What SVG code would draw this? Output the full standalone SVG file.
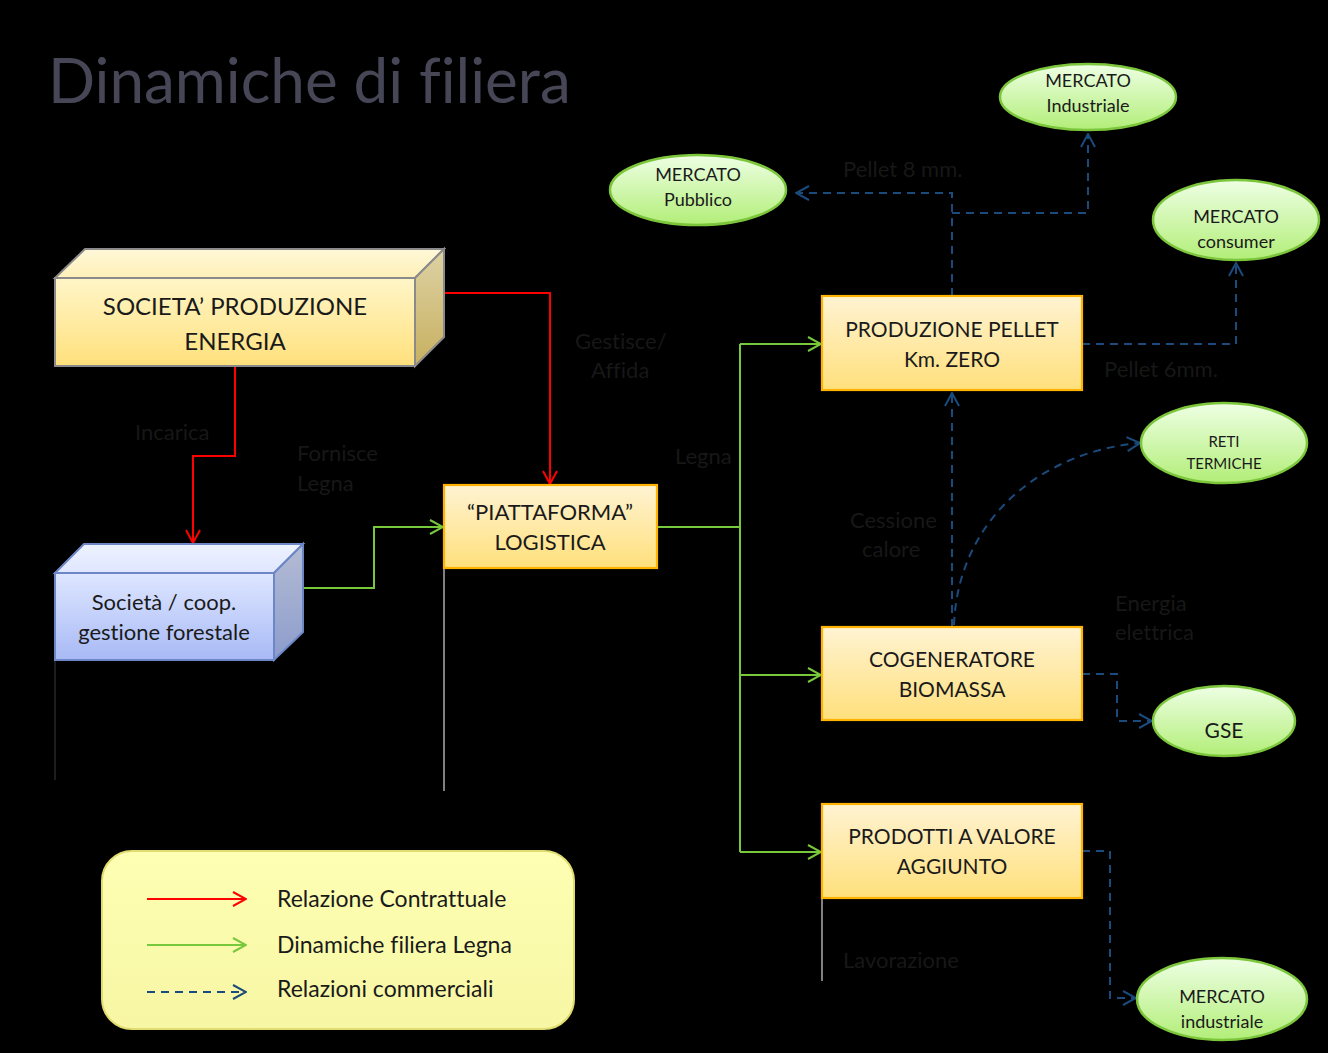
<svg xmlns="http://www.w3.org/2000/svg" width="1328" height="1053" viewBox="0 0 1328 1053">
<style>
  text{font-variant-ligatures:none}
  .t{font-family:Lato,"Open Sans","Liberation Sans",sans-serif;fill:#1a1a1a;text-anchor:middle}
  .lbl{font-family:Lato,"Open Sans","Liberation Sans",sans-serif;fill:#171717;font-size:22px}
  .lg{font-family:Lato,"Open Sans","Liberation Sans",sans-serif;fill:#1a1a1a;font-size:23px}
  .box{fill:url(#gy);stroke:#ffb300;stroke-width:2.2}
  .ell{fill:url(#gg);stroke:#7cc63c;stroke-width:2.5}
  .red{fill:none;stroke:#ff0000;stroke-width:2}
  .grn{fill:none;stroke:#78c83c;stroke-width:2}
  .blu{fill:none;stroke:#1b4a7c;stroke-width:2;stroke-dasharray:8,6}
  .gl{stroke:#808080;stroke-width:2}
</style>
<defs>
  <linearGradient id="gy" x1="0" y1="0" x2="0" y2="1">
    <stop offset="0" stop-color="#fff3d2"/><stop offset="1" stop-color="#ffe07c"/>
  </linearGradient>
  <linearGradient id="gy3" x1="0" y1="0" x2="0" y2="1">
    <stop offset="0" stop-color="#fff6c8"/><stop offset="1" stop-color="#ffe07c"/>
  </linearGradient>
  <linearGradient id="gyt" x1="0" y1="0" x2="0" y2="1">
    <stop offset="0" stop-color="#fff8d8"/><stop offset="1" stop-color="#fff0b8"/>
  </linearGradient>
  <linearGradient id="gys" x1="0" y1="0" x2="0" y2="1">
    <stop offset="0" stop-color="#ddd2a4"/><stop offset="1" stop-color="#c8b060"/>
  </linearGradient>
  <linearGradient id="gb" x1="0" y1="0" x2="0" y2="1">
    <stop offset="0" stop-color="#dee6ff"/><stop offset="1" stop-color="#a8baf6"/>
  </linearGradient>
  <linearGradient id="gbt" x1="0" y1="0" x2="0" y2="1">
    <stop offset="0" stop-color="#eef2ff"/><stop offset="1" stop-color="#dfe6ff"/>
  </linearGradient>
  <linearGradient id="gbs" x1="0" y1="0" x2="0" y2="1">
    <stop offset="0" stop-color="#b4bcd4"/><stop offset="1" stop-color="#8c9ccc"/>
  </linearGradient>
  <linearGradient id="gg" x1="0" y1="0" x2="0" y2="1">
    <stop offset="0" stop-color="#eeffe4"/><stop offset="1" stop-color="#b2ee78"/>
  </linearGradient>
  <linearGradient id="gl" x1="0" y1="0" x2="0" y2="1">
    <stop offset="0" stop-color="#ffffb4"/><stop offset="1" stop-color="#f6f6a4"/>
  </linearGradient>
  <marker id="ar" viewBox="0 0 16 16" markerUnits="userSpaceOnUse" markerWidth="16" markerHeight="16" refX="15" refY="8" orient="auto">
    <path d="M2,1 L15,8 L2,15" fill="none" stroke="#ff0000" stroke-width="2"/>
  </marker>
  <marker id="ag" viewBox="0 0 16 16" markerUnits="userSpaceOnUse" markerWidth="16" markerHeight="16" refX="15" refY="8" orient="auto">
    <path d="M2,1 L15,8 L2,15" fill="none" stroke="#78c83c" stroke-width="2"/>
  </marker>
  <marker id="ab" viewBox="0 0 16 16" markerUnits="userSpaceOnUse" markerWidth="16" markerHeight="16" refX="15" refY="8" orient="auto">
    <path d="M2,1 L15,8 L2,15" fill="none" stroke="#1b4a7c" stroke-width="2"/>
  </marker>
</defs>
<rect width="1328" height="1053" fill="#000"/>

<text x="48" y="103" font-family="Lato,'Open Sans','Liberation Sans',sans-serif" font-size="62" fill="#474656">Dinamiche di filiera</text>

<g id="edges-misc">
  <line x1="55" y1="660" x2="55" y2="780" stroke="#1e1e1e" stroke-width="2"/>
  <line class="gl" x1="444" y1="568" x2="444" y2="791"/>
  <line class="gl" x1="822" y1="898" x2="822" y2="981"/>
</g>

<g id="connectors">
  <path class="red" d="M444,293 H550 V484" marker-end="url(#ar)"/>
  <path class="red" d="M235,366 V456 H193 V543" marker-end="url(#ar)"/>
  <path class="grn" d="M303,588 H374 V527 H443" marker-end="url(#ag)"/>
  <path class="grn" d="M657,527 H740"/>
  <path class="grn" d="M740,344 V852"/>
  <path class="grn" d="M740,344 H821" marker-end="url(#ag)"/>
  <path class="grn" d="M740,675 H821" marker-end="url(#ag)"/>
  <path class="grn" d="M740,852 H821" marker-end="url(#ag)"/>
  <path class="blu" d="M952,296 V193 H796" marker-end="url(#ab)"/>
  <path class="blu" d="M952,213 H1088 V134" marker-end="url(#ab)"/>
  <path class="blu" d="M1082,344 H1236 V263" marker-end="url(#ab)"/>
  <path class="blu" d="M952,627 V393" marker-end="url(#ab)"/>
  <path class="blu" d="M954,625 C958,520 1040,452 1140,443" marker-end="url(#ab)"/>
  <path class="blu" d="M1082,674 H1117 V721 H1152" marker-end="url(#ab)"/>
  <path class="blu" d="M1082,851 H1110 V998 H1136" marker-end="url(#ab)"/>
</g>

<g id="labels" class="lbl">
  <text x="575" y="349">Gestisce/</text>
  <text x="591" y="378">Affida</text>
  <text x="135" y="440">Incarica</text>
  <text x="297" y="461">Fornisce</text>
  <text x="297" y="491">Legna</text>
  <text x="675" y="464">Legna</text>
  <text x="843" y="177">Pellet 8 mm.</text>
  <text x="1104" y="377">Pellet 6mm.</text>
  <text x="850" y="528">Cessione</text>
  <text x="862" y="557">calore</text>
  <text x="1115" y="611">Energia</text>
  <text x="1115" y="640">elettrica</text>
  <text x="843" y="968">Lavorazione</text>
</g>

<g id="n-societa-energia">
  <polygon points="55,278 85,249 444,249 415,278" fill="url(#gyt)" stroke="#8a8a8a" stroke-width="2"/>
  <polygon points="415,278 444,249 444,337 415,366" fill="url(#gys)" stroke="#8a8a8a" stroke-width="2"/>
  <rect x="55" y="278" width="360" height="88" fill="url(#gy3)" stroke="#8a8a8a" stroke-width="2"/>
  <text class="t" x="235" y="315" font-size="24">SOCIETA’ PRODUZIONE</text>
  <text class="t" x="235" y="350" font-size="24">ENERGIA</text>
</g>

<g id="n-coop">
  <polygon points="55,573 84,544 303,544 274,573" fill="url(#gbt)" stroke="#6c86c6" stroke-width="2"/>
  <polygon points="274,573 303,544 303,632 274,660" fill="url(#gbs)" stroke="#6c86c6" stroke-width="2"/>
  <rect x="55" y="573" width="219" height="87" fill="url(#gb)" stroke="#6c86c6" stroke-width="2"/>
  <text class="t" x="164" y="610" font-size="22">Società / coop.</text>
  <text class="t" x="164" y="640" font-size="22">gestione forestale</text>
</g>

<g id="n-piattaforma">
  <rect class="box" x="444" y="485" width="213" height="83"/>
  <text class="t" x="550" y="520" font-size="22">“PIATTAFORMA”</text>
  <text class="t" x="550" y="550" font-size="22">LOGISTICA</text>
</g>

<g id="n-pellet">
  <rect class="box" x="822" y="296" width="260" height="94"/>
  <text class="t" x="952" y="337" font-size="21">PRODUZIONE PELLET</text>
  <text class="t" x="952" y="367" font-size="21">Km. ZERO</text>
</g>

<g id="n-cogeneratore">
  <rect class="box" x="822" y="627" width="260" height="93"/>
  <text class="t" x="952" y="667" font-size="21">COGENERATORE</text>
  <text class="t" x="952" y="697" font-size="21">BIOMASSA</text>
</g>

<g id="n-prodotti">
  <rect class="box" x="822" y="804" width="260" height="94"/>
  <text class="t" x="952" y="844" font-size="21">PRODOTTI A VALORE</text>
  <text class="t" x="952" y="874" font-size="21">AGGIUNTO</text>
</g>

<g id="n-mercato-industriale-top">
  <ellipse class="ell" cx="1088" cy="97" rx="88" ry="33"/>
  <text class="t" x="1088" y="87" font-size="18">MERCATO</text>
  <text class="t" x="1088" y="112" font-size="18">Industriale</text>
</g>

<g id="n-mercato-pubblico">
  <ellipse class="ell" cx="698" cy="190" rx="88" ry="35"/>
  <text class="t" x="698" y="181" font-size="18">MERCATO</text>
  <text class="t" x="698" y="206" font-size="18">Pubblico</text>
</g>

<g id="n-mercato-consumer">
  <ellipse class="ell" cx="1236" cy="220" rx="83" ry="40"/>
  <text class="t" x="1236" y="223" font-size="18">MERCATO</text>
  <text class="t" x="1236" y="248" font-size="18">consumer</text>
</g>

<g id="n-reti">
  <ellipse class="ell" cx="1224" cy="443" rx="83" ry="40"/>
  <text class="t" x="1224" y="447" font-size="15">RETI</text>
  <text class="t" x="1224" y="469" font-size="15">TERMICHE</text>
</g>

<g id="n-gse">
  <ellipse class="ell" cx="1224" cy="721" rx="71" ry="35"/>
  <text class="t" x="1224" y="738" font-size="21">GSE</text>
</g>

<g id="n-mercato-industriale-bottom">
  <ellipse class="ell" cx="1222" cy="999" rx="85" ry="41"/>
  <text class="t" x="1222" y="1003" font-size="18">MERCATO</text>
  <text class="t" x="1222" y="1028" font-size="18">industriale</text>
</g>

<g id="legend">
  <rect x="102" y="851" width="472" height="178" rx="30" fill="url(#gl)" stroke="#e0dc70" stroke-width="2"/>
  <path class="red" d="M147,899 H246" marker-end="url(#ar)"/>
  <path class="grn" d="M147,945 H246" marker-end="url(#ag)"/>
  <path class="blu" d="M147,992 H246" marker-end="url(#ab)"/>
  <text class="lg" x="277" y="907">Relazione Contrattuale</text>
  <text class="lg" x="277" y="953">Dinamiche filiera Legna</text>
  <text class="lg" x="277" y="997">Relazioni commerciali</text>
</g>
</svg>
